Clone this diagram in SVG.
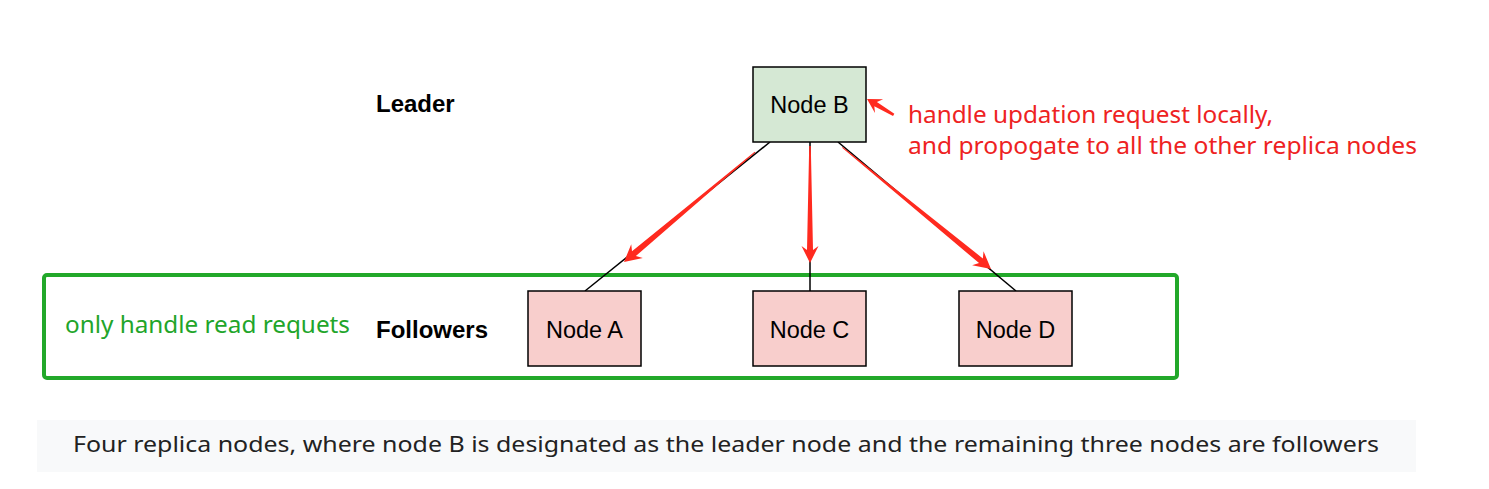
<svg xmlns="http://www.w3.org/2000/svg" width="1489" height="489" viewBox="0 0 1489 489">
<style>
.node rect{stroke:#000;stroke-width:1.5}
.nt{font-family:"Liberation Sans",Arial,sans-serif;font-size:23.5px;fill:#000;text-anchor:middle}
.lbl{font-family:"Liberation Sans",Arial,sans-serif;font-size:24px;font-weight:bold;fill:#000}
.red{font-family:"Noto Sans","Open Sans",sans-serif;font-size:23px;fill:#ee2222}
.grn{font-family:"Noto Sans","Open Sans",sans-serif;font-size:23px;fill:#22a52a}
.cap{font-family:"Noto Sans","Open Sans",sans-serif;font-size:21px;fill:#222}
.ln{stroke:#000;stroke-width:1.5;fill:none}
.arr{fill:#ff2a1f;stroke:none}
</style>
<rect width="1489" height="489" fill="#fff"/>
<g id="caption">
<rect x="37" y="420" width="1379" height="52" fill="#f8f9fa"/>
<text class="cap" x="73" y="452" textLength="1306" lengthAdjust="spacingAndGlyphs">Four replica nodes, where node B is designated as the leader node and the remaining three nodes are followers</text>
</g>
<g id="followers-group">
<rect x="44" y="275" width="1133" height="103" rx="3" fill="none" stroke="#22a82a" stroke-width="4"/>
<text class="grn" x="65" y="333" textLength="285" lengthAdjust="spacingAndGlyphs">only handle read requets</text>
</g>
<g id="connectors">
<line class="ln" x1="770" y1="142" x2="585" y2="291"/>
<line class="ln" x1="810" y1="142" x2="810" y2="291"/>
<line class="ln" x1="838" y1="142" x2="1016" y2="291"/>
<path class="arr" transform="translate(624,262) rotate(140)" d="M-171,-0.5 L-13,-3 L-17,-9 L0,0 L-17,9 L-13,3 L-171,0.5 Z"/>
<path class="arr" transform="translate(810,263) rotate(90)" d="M-117,-0.8 L-13,-3 L-17,-8.5 L0,0 L-17,8.5 L-13,3 L-117,0.8 Z"/>
<path class="arr" transform="translate(991,269) rotate(39.3)" d="M-192,-0.5 L-13,-3 L-17,-9 L0,0 L-17,9 L-13,3 L-192,0.5 Z"/>
<path class="arr" transform="translate(867,99) rotate(-149.4)" d="M-31,-1.3 L-10,-2.5 L-14,-8 L0,0 L-14,8 L-10,2.5 L-31,1.3 Z"/>
</g>
<g id="leader-label"><text class="lbl" x="376" y="112">Leader</text></g>
<g id="followers-label"><text class="lbl" x="376" y="338">Followers</text></g>
<g id="node-b" class="node">
<rect x="753" y="67" width="113" height="75" fill="#d5e8d4"/>
<text class="nt" x="809.5" y="113">Node B</text>
</g>
<g id="node-a" class="node">
<rect x="528" y="291" width="113" height="75" fill="#f8cecc"/>
<text class="nt" x="584.5" y="338">Node A</text>
</g>
<g id="node-c" class="node">
<rect x="753" y="291" width="113" height="75" fill="#f8cecc"/>
<text class="nt" x="809.5" y="338">Node C</text>
</g>
<g id="node-d" class="node">
<rect x="959" y="291" width="113" height="75" fill="#f8cecc"/>
<text class="nt" x="1015.5" y="338">Node D</text>
</g>
<g id="leader-note">
<text class="red" x="908" y="123" textLength="365" lengthAdjust="spacingAndGlyphs">handle updation request locally,</text>
<text class="red" x="908" y="154" textLength="509" lengthAdjust="spacingAndGlyphs">and propogate to all the other replica nodes</text>
</g>
</svg>
